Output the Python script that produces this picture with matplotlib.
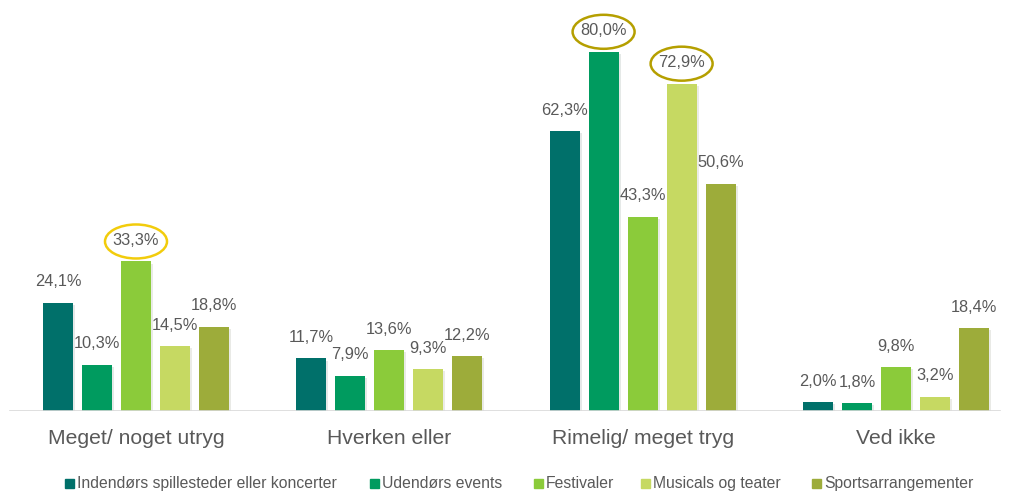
import matplotlib
matplotlib.use("Agg")
import matplotlib.pyplot as plt
import matplotlib.patheffects as pe
from matplotlib.patches import Ellipse, Rectangle
import numpy as np

# data
kategorier = ["Meget/ noget utryg", "Hverken eller", "Rimelig/ meget tryg", "Ved ikke"]
serier = ["Indendørs spillesteder eller koncerter", "Udendørs events", "Festivaler",
          "Musicals og teater", "Sportsarrangementer"]
indendors = [24.1, 11.7, 62.3, 2.0]
udendors = [10.3, 7.9, 80.0, 1.8]
festivaler = [33.3, 13.6, 43.3, 9.8]
musicals = [14.5, 9.3, 72.9, 3.2]
sport = [18.8, 12.2, 50.6, 18.4]
farver = ["#00706A", "#009B5F", "#8BCB3A", "#C6D962", "#9DAC3A"]

# highlighted labels: (series index, category index, ring colour)
markeret = [(2, 0, "#F2CC0C"), (1, 2, "#B59F00"), (3, 2, "#B59F00")]

vaerdier = [indendors, udendors, festivaler, musicals, sport]

plt.rcParams['font.family'] = ['Liberation Sans', 'DejaVu Sans']
tekstfarve = "#595959"

W, H = 1009, 493
fig = plt.figure(figsize=(W / 100, H / 100), dpi=100)
ax = fig.add_axes([0, 1 - 411 / H, 1, 411 / H])

x = np.arange(len(kategorier))
bredde = 0.118
afstand = 0.154
ypx = 4.49  # pixels per percent

for i, (navn, v) in enumerate(zip(serier, vaerdier)):
    pos = x + (i - 2) * afstand
    bars = ax.bar(pos, v, bredde, color=farver[i], label=navn, zorder=3)
    for b in bars:
        b.set_path_effects([pe.SimplePatchShadow(offset=(1.5, -1.5), alpha=0.1), pe.Normal()])
    for xx, vv in zip(pos, v):
        ax.annotate(f"{vv:.1f}%".replace(".", ","), (xx, vv), xytext=(0, 15),
                    textcoords="offset points", ha="center", va="center",
                    fontsize=11.8, color=tekstfarve, zorder=5)

for s, k, c in markeret:
    xx = x[k] + (s - 2) * afstand
    yy = vaerdier[s][k] + 20 / ypx
    ax.add_patch(Ellipse((xx, yy), 62 / 253.3, 34 / ypx, fill=False,
                         edgecolor=c, linewidth=1.8, zorder=6))

ax.set_xlim(-136 / 253.3, (W - 136) / 253.3)
ax.set_ylim(0, 411 / ypx)
ax.axhline(0, xmin=10 / W, xmax=1000 / W, color="#D9D9D9", linewidth=1.2, zorder=4)
for sp in ax.spines.values():
    sp.set_visible(False)
ax.set_yticks([])
ax.set_xticks(x)
ax.set_xticklabels(kategorier, fontsize=15.2, color=tekstfarve)
ax.tick_params(axis="x", length=0, pad=13)

# legend laid out like the original (pixel x of each marker)
leg_x = [65, 370, 534, 641, 812]
leg_y = 1 - 483.5 / H
for lx, navn, c in zip(leg_x, serier, farver):
    fig.add_artist(Rectangle((lx / W, leg_y - 4.5 / H), 8.5 / W, 9 / H,
                             transform=fig.transFigure, color=c))
    fig.text((lx + 12) / W, leg_y, navn, fontsize=11.3, color=tekstfarve,
             ha="left", va="center")

fig.savefig("out.png", dpi=100)
